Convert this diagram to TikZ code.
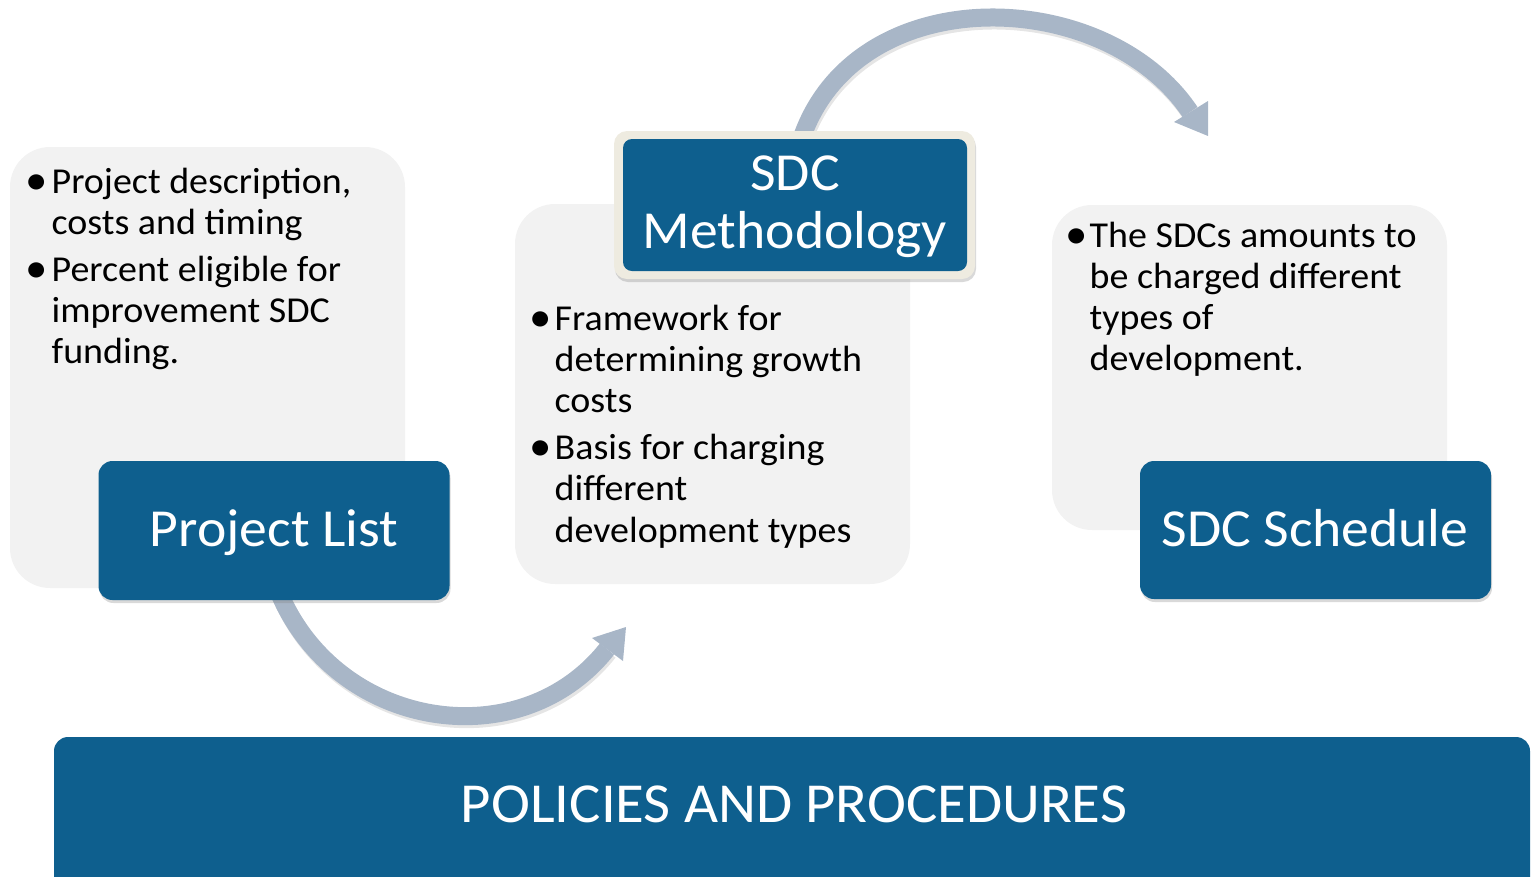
\documentclass[tikz,border=0pt]{standalone}
\usepackage{fontspec}
\usepackage{graphicx}
\setmainfont{Carlito}[FakeStretch=1.04]
\usetikzlibrary{shadows}
\definecolor{sdcblue}{HTML}{0E5F8E}
\definecolor{boxgrey}{HTML}{F2F2F2}
\definecolor{arcgrey}{HTML}{A8B6C7}
\definecolor{cream}{HTML}{EEEBE0}
\newcommand{\sdcbullet}[1]{\hangindent=#1\hangafter=1\noindent\makebox[#1][l]{\hspace*{-2.5pt}\raisebox{-1pt}{\scalebox{1.18}{\textbullet}}}}
\newcommand{\bodysize}{\fontsize{36.5}{41.2}\selectfont}
\newcommand{\titlesize}{\fontsize{53.5}{58}\selectfont}
\begin{document}
\begin{tikzpicture}[x=1pt,y=-1pt,
  greybox/.style={fill=boxgrey, rounded corners=40pt, inner sep=0pt},
  bluebox/.style={fill=sdcblue, rounded corners=14pt, inner sep=0pt,
    drop shadow={opacity=0.3, shadow xshift=1pt, shadow yshift=-3pt}},
  creambox/.style={fill=cream, rounded corners=13pt, inner sep=0pt,
    drop shadow={opacity=0.3, shadow xshift=1pt, shadow yshift=-3pt}},
  flowarc/.style={draw=arcgrey, line width=18pt},
  arcshadow/.style={draw=black, opacity=0.10, line width=18pt},
  arrowhead/.style={fill=arcgrey},
  bodytext/.style={anchor=base west, inner sep=0pt, text=black},
  titletext/.style={anchor=base, inner sep=0pt, text=white}]
\useasboundingbox (0,0) rectangle (1531,876);
\clip (0,0) rectangle (1531,876);

% grey background panels
\node[greybox, minimum width=395pt, minimum height=441pt] (leftbg) at (207.5,367.5) {};
\node[greybox, minimum width=395pt, minimum height=380pt] (midbg) at (712.5,394) {};
\node[greybox, minimum width=395pt, minimum height=325pt] (rightbg) at (1249.5,367.5) {};

% arcs
\coordinate (a1s) at (278,590);
\coordinate (a1c1) at (335,730);
\coordinate (a1c2) at (520,759);
\coordinate (a1e) at (607,649);
\coordinate (a2s) at (801,140);
\coordinate (a2c1) at (855,-22);
\coordinate (a2c2) at (1105,-15);
\coordinate (a2e) at (1190,112);
\path[arcshadow] ([shift={(1.5,3)}]a1s) .. controls ([shift={(1.5,3)}]a1c1) and ([shift={(1.5,3)}]a1c2) .. ([shift={(1.5,3)}]a1e);
\path[arcshadow] ([shift={(1.5,3)}]a2s) .. controls ([shift={(1.5,3)}]a2c1) and ([shift={(1.5,3)}]a2c2) .. ([shift={(1.5,3)}]a2e);
\draw[flowarc] (a1s) .. controls (a1c1) and (a1c2) .. (a1e);
\draw[flowarc] (a2s) .. controls (a2c1) and (a2c2) .. (a2e);
\fill[arrowhead] (592,638) -- (626,627) -- (623,661) -- cycle;
\fill[arrowhead] (1174,122) -- (1208,101) -- (1208,136) -- cycle;

% blue boxes
\node[bluebox, minimum width=351pt, minimum height=139pt] (plist) at (274,530.5) {};
\node[bluebox, minimum width=351pt, minimum height=138pt] (sched) at (1315.5,530) {};
\node[creambox, minimum width=361pt, minimum height=148pt] (methout) at (794.5,205) {};
\node[fill=sdcblue, rounded corners=9pt, inner sep=0pt, minimum width=344pt, minimum height=132pt] (meth) at (795,205) {};
\fill[sdcblue, rounded corners=14pt] (54,737) rectangle (1530,920);
\node[inner sep=0pt, minimum width=1476pt, minimum height=139pt] (policy) at (792,806.5) {};

% titles
\node[titletext] (plisttxt) at (274,546) {\titlesize Project List};
\node[titletext] (schedtxt) at (1315,546) {\titlesize SDC Schedule};
\node[titletext] (methtxt) at (795,190) {\parbox[t]{340pt}{\centering\titlesize SDC\\Methodology}};
\node[titletext] (policytxt) at (794,822) {\fontsize{56.5}{60}\selectfont POLICIES AND PROCEDURES};

% bullet texts
\node[bodytext] (lefttxt) at (28,193) {\parbox[t]{370pt}{\bodysize\parskip=6pt
\sdcbullet{23.5pt}Project description,\\costs and timing\par
\sdcbullet{23.5pt}Percent eligible for\\improvement SDC\\funding.\par}};
\node[bodytext] (midtxt) at (532,330) {\parbox[t]{370pt}{\bodysize\parskip=6pt
\sdcbullet{22.5pt}Framework for\\determining growth\\costs\par
\sdcbullet{22.5pt}Basis for charging\\different\\development types\par}};
\node[bodytext] (righttxt) at (1068,247) {\parbox[t]{370pt}{\bodysize\parskip=6pt
\sdcbullet{21.5pt}The SDCs amounts to\\be charged different\\types of\\development.\par}};
\end{tikzpicture}
\end{document}
